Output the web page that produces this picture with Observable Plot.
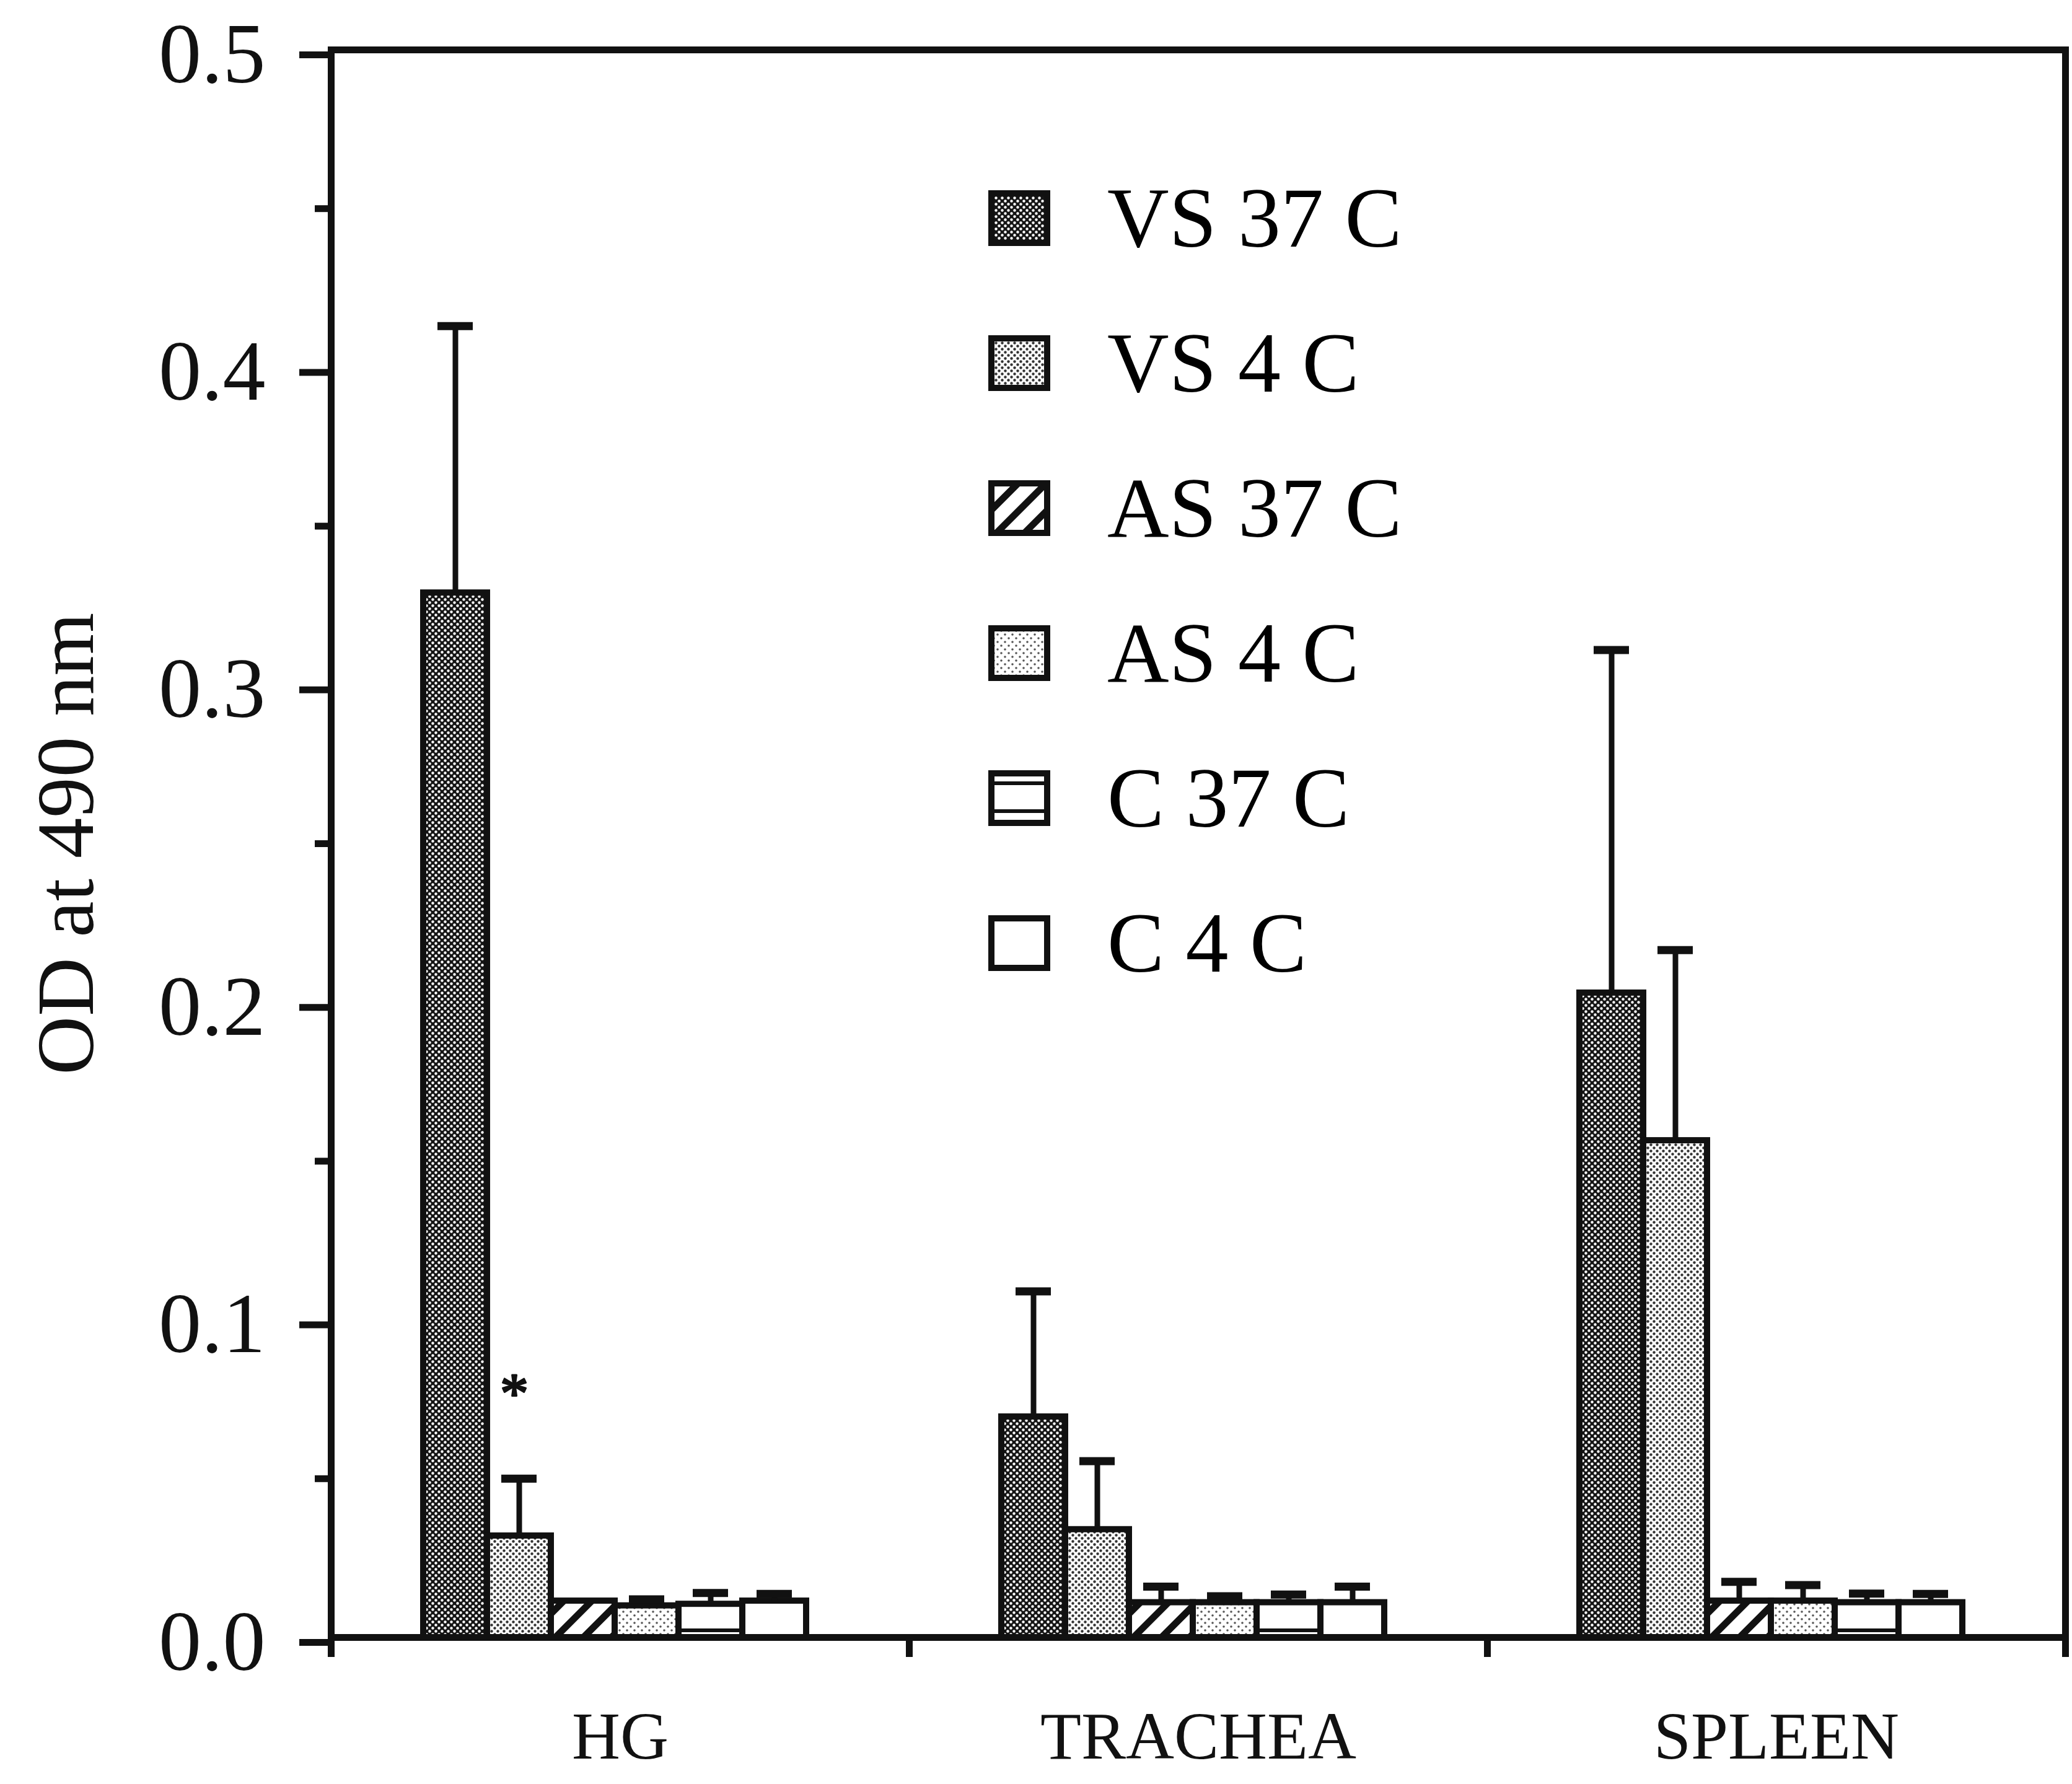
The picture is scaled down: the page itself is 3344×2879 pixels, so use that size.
<!DOCTYPE html>
<html>
<head>
<meta charset="utf-8">
<script src="https://cdn.jsdelivr.net/npm/d3@7"></script>
<script src="https://cdn.jsdelivr.net/npm/@observablehq/plot@0.6"></script>
<style>
  html, body { margin: 0; padding: 0; background: #fff; }
  #wrap { position: relative; width: 3344px; height: 2879px; font-family: "Liberation Serif", "Times New Roman", serif; }
  #legend { position: absolute; left: 1595px; top: 235px; }
  .row { display: flex; align-items: center; height: 234px; }
  .row svg { display: block; flex: none; }
  .row span { margin-left: 92px; font-size: 138px; line-height: 1; color: #000; white-space: nowrap; }
</style>
</head>
<body>
<svg width="0" height="0" style="position:absolute">
  <defs>
    <pattern id="p-vs37" width="10" height="10" patternUnits="userSpaceOnUse">
      <rect width="10" height="10" fill="#151515"/>
      <circle cx="2.5" cy="2.5" r="2.2" fill="#fff"/>
      <circle cx="7.5" cy="7.5" r="2.2" fill="#fff"/>
    </pattern>
    <pattern id="p-vs4" width="10" height="10" patternUnits="userSpaceOnUse">
      <rect width="10" height="10" fill="#fff"/>
      <circle cx="2.5" cy="2.5" r="2.2" fill="#333"/>
      <circle cx="7.5" cy="7.5" r="2.2" fill="#333"/>
    </pattern>
    <pattern id="p-as37" width="32" height="32" patternUnits="userSpaceOnUse" patternTransform="rotate(45)">
      <rect width="32" height="32" fill="#fff"/>
      <rect x="0" y="0" width="11" height="32" fill="#111"/>
    </pattern>
    <pattern id="p-as4" width="12" height="12" patternUnits="userSpaceOnUse">
      <rect width="12" height="12" fill="#fff"/>
      <circle cx="3" cy="3" r="1.8" fill="#555"/>
      <circle cx="9" cy="9" r="1.8" fill="#555"/>
    </pattern>
    <pattern id="p-c37" width="40" height="45" patternUnits="userSpaceOnUse">
      <rect width="40" height="45" fill="#fff"/>
      <rect x="0" y="18" width="40" height="6" fill="#111"/>
    </pattern>
    <pattern id="p-c4" width="10" height="10" patternUnits="userSpaceOnUse">
      <rect width="10" height="10" fill="#fff"/>
    </pattern>
  </defs>
</svg>
<div id="wrap"></div>
<script>
// ---- data ----
const organs = ["HG", "TRACHEA", "SPLEEN"];
const series = ["VS 37 C", "VS 4 C", "AS 37 C", "AS 4 C", "C 37 C", "C 4 C"];
const patternIds = ["p-vs37", "p-vs4", "p-as37", "p-as4", "p-c37", "p-c4"];

// mean OD per organ (HG, TRACHEA, SPLEEN) for each series
const vs37Mean = [0.329, 0.0695, 0.203];
const vs4Mean  = [0.032, 0.034, 0.1565];
const as37Mean = [0.0115, 0.011, 0.0115];
const as4Mean  = [0.010, 0.011, 0.0115];
const c37Mean  = [0.0105, 0.011, 0.011];
const c4Mean   = [0.0115, 0.011, 0.011];

// upper error (SD) per organ for each series
const vs37Err = [0.084, 0.0395, 0.108];
const vs4Err  = [0.018, 0.0215, 0.060];
const as37Err = [0.0, 0.005, 0.006];
const as4Err  = [0.002, 0.002, 0.005];
const c37Err  = [0.0035, 0.0025, 0.0028];
const c4Err   = [0.0022, 0.005, 0.0027];

const yTicks = [0, 0.1, 0.2, 0.3, 0.4, 0.5];
const yMinorTicks = [0.05, 0.15, 0.25, 0.35, 0.45];
const yLabel = "OD at 490 nm";

// significance marker
const stars = [{organ: "HG", series: "VS 4 C", y: 0.0806, text: "*"}];

// ---- table ----
const means = [vs37Mean, vs4Mean, as37Mean, as4Mean, c37Mean, c4Mean];
const errs = [vs37Err, vs4Err, as37Err, as4Err, c37Err, c4Err];
const data = [];
organs.forEach((o, i) => series.forEach((s, j) => {
  data.push({organ: o, series: s, mean: means[j][i], err: errs[j][i], fill: `url(#${patternIds[j]})`});
}));

const font = "Liberation Serif, Times New Roman, serif";

const chart = Plot.plot({
  width: 3344,
  height: 2879,
  marginLeft: 533,
  marginRight: 11,
  marginTop: 80,
  marginBottom: 237,
  style: {fontFamily: font, background: "#fff", color: "#000"},
  fx: {domain: organs, padding: 0},
  x: {domain: series, paddingInner: 0, paddingOuter: 1.44, insetRight: 18, axis: null},
  y: {domain: [0, 0.5]},
  color: {type: "identity"},
  marks: [
    Plot.barY(data, {fx: "organ", x: "series", y: "mean", fill: "fill", stroke: "#111", strokeWidth: 10}),
    Plot.ruleX(data, {fx: "organ", x: "series", y1: "mean", y2: d => d.mean + d.err, stroke: "#111", strokeWidth: 9}),
    Plot.tickY(data.filter(d => d.err > 0), {fx: "organ", x: "series", y: d => d.mean + d.err, stroke: "#111", strokeWidth: 13, insetLeft: 23, insetRight: 23}),
    Plot.text(stars, {fx: "organ", x: "series", y: "y", text: "text", fontSize: 92, dy: 20, dx: -8, fill: "#111", stroke: "#111", strokeWidth: 3}),
    // frame lines
    Plot.frame({anchor: "top", stroke: "#111", strokeWidth: 11}),
    Plot.frame({anchor: "bottom", stroke: "#111", strokeWidth: 11}),
    Plot.frame({anchor: "left", facetAnchor: "left", insetBottom: -26, stroke: "#111", strokeWidth: 11}),
    Plot.frame({anchor: "right", facetAnchor: "right", insetBottom: -26, stroke: "#111", strokeWidth: 11}),
    Plot.frame({anchor: "left", insetTop: 2562, insetBottom: -26, stroke: "#111", strokeWidth: 11}),
    // axes
    Plot.axisY({ticks: yTicks, tickSize: 51, tickPadding: 55, tickFormat: d3.format(".1f"), fontSize: 138, stroke: "#111", strokeWidth: 11, fill: "#111", label: null, dy: 8}),
    Plot.axisY({ticks: yMinorTicks, tickSize: 26, tickFormat: () => "", stroke: "#111", strokeWidth: 11, label: null}),
    Plot.axisY({ticks: [], tickSize: 0, label: yLabel, labelAnchor: "center", labelArrow: "none", labelOffset: 478, fontSize: 131, fill: "#111"}),
    Plot.axisFx({anchor: "bottom", tickSize: 0, tickPadding: 119, fontSize: 108, label: null, fill: "#111"})
  ]
});

const wrap = document.getElementById("wrap");
wrap.appendChild(chart);

// legend overlay inside the plot area
const legend = d3.select(wrap).append("div").attr("id", "legend");
series.forEach((s, j) => {
  const row = legend.append("div").attr("class", "row");
  const sw = row.append("svg").attr("width", 100).attr("height", 90);
  sw.append("rect").attr("x", 5).attr("y", 5).attr("width", 90).attr("height", 80)
    .attr("fill", `url(#${patternIds[j]})`).attr("stroke", "#111").attr("stroke-width", 10);
  row.append("span").text(s);
});
</script>
</body>
</html>
